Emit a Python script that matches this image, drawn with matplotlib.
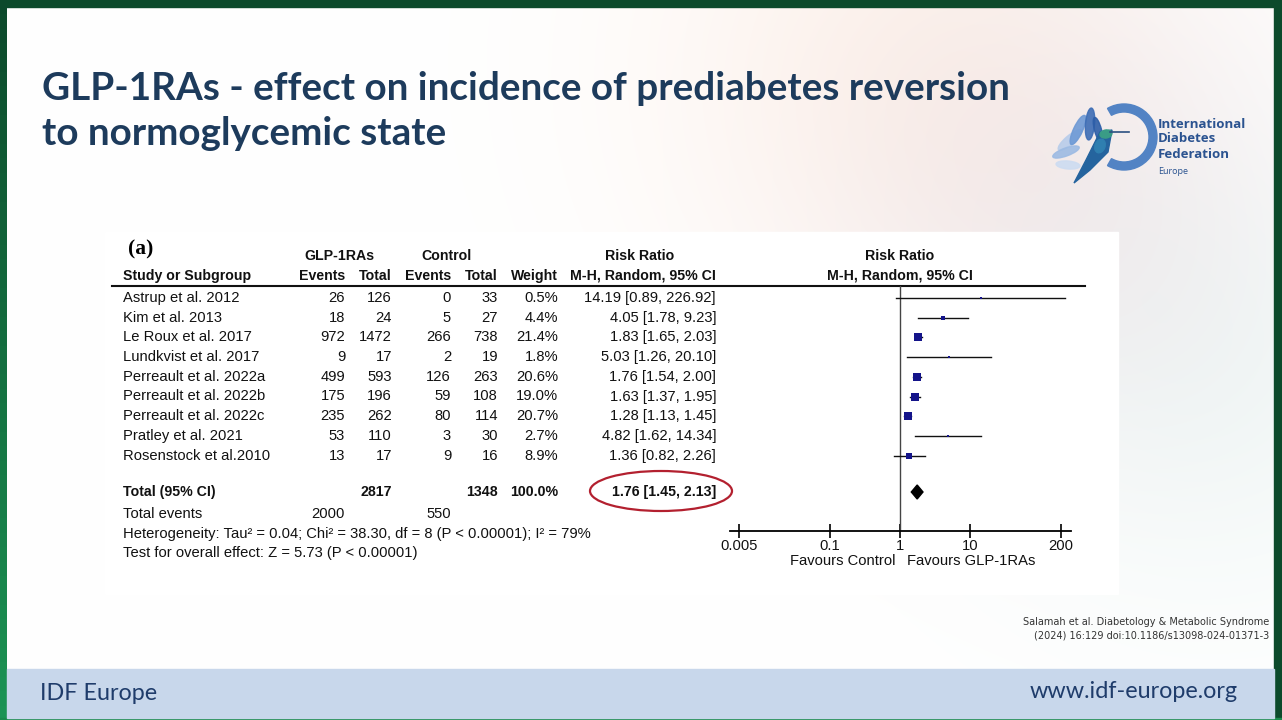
import numpy as np
import matplotlib
matplotlib.use("Agg")
import matplotlib.pyplot as plt
from matplotlib.patches import Rectangle, Ellipse, Polygon, Wedge

# --- forest plot data (Salamah et al. 2024, panel a) ---
studies = ["Astrup et al. 2012", "Kim et al. 2013", "Le Roux et al. 2017",
           "Lundkvist et al. 2017", "Perreault et al. 2022a", "Perreault et al. 2022b",
           "Perreault et al. 2022c", "Pratley et al. 2021", "Rosenstock et al.2010"]
glp_events = [26, 18, 972, 9, 499, 175, 235, 53, 13]
glp_total = [126, 24, 1472, 17, 593, 196, 262, 110, 17]
ctl_events = [0, 5, 266, 2, 126, 59, 80, 3, 9]
ctl_total = [33, 27, 738, 19, 263, 108, 114, 30, 16]
weights = [0.5, 4.4, 21.4, 1.8, 20.6, 19.0, 20.7, 2.7, 8.9]
rr = [14.19, 4.05, 1.83, 5.03, 1.76, 1.63, 1.28, 4.82, 1.36]
ci_lo = [0.89, 1.78, 1.65, 1.26, 1.54, 1.37, 1.13, 1.62, 0.82]
ci_hi = [226.92, 9.23, 2.03, 20.10, 2.00, 1.95, 1.45, 14.34, 2.26]

tot_glp, tot_ctl = 2817, 1348
tot_ev_glp, tot_ev_ctl = 2000, 550
pooled = [1.76, 1.45, 2.13]
xticks = [0.005, 0.1, 1, 10, 200]
xtick_labels = ["0.005", "0.1", "1", "10", "200"]

W, H = 1282, 720
fig = plt.figure(figsize=(W / 100, H / 100), dpi=100)

# full-slide axes in pixel coordinates
ax = fig.add_axes([0, 0, 1, 1])
ax.set_xlim(0, W)
ax.set_ylim(H, 0)
ax.axis("off")

# soft background glow (top right)
gx, gy = np.meshgrid(np.linspace(0, W, 160), np.linspace(0, H, 90))
img = np.ones((90, 160, 3))
def glow(cx, cy, r, col, k):
    f = np.exp(-((gx - cx) ** 2 + (gy - cy) ** 2) / (2 * r ** 2))[..., None] * k
    return f * (np.array(col) - 1.0)
img += glow(930, 60, 200, (0.99, 0.90, 0.84), 0.45)
img += glow(1060, 200, 170, (0.93, 0.91, 0.95), 0.5)
img += glow(1230, 380, 170, (0.90, 0.95, 0.94), 0.45)
img = np.clip(img, 0, 1)
ax.imshow(img, extent=[0, W, H, 0], aspect="auto", zorder=0, interpolation="bilinear")

# green frame
ax.add_patch(Rectangle((0, 0), W, 7, color="#0c4a2b", zorder=1))
ax.add_patch(Rectangle((W - 8, 0), 8, H, color="#0c4a2b", zorder=1))
lg = np.linspace(0, 1, 50)[:, None, None] * (np.array([0.11, 0.58, 0.33]) - np.array([0.05, 0.29, 0.17])) + np.array([0.05, 0.29, 0.17])
ax.imshow(lg, extent=[0, 7, H, 0], aspect="auto", zorder=1)
ax.add_patch(Rectangle((0, 718), W, 2, color="#1a8a4c", zorder=1))

# footer band
ax.add_patch(Rectangle((7, 669), W - 15, 49, color="#c8d7eb", zorder=1))
ax.text(40, 694, "IDF Europe", fontsize=16.8, family="Lato", color="#1f3c6b", va="center", zorder=3)
ax.text(1238, 692, "www.idf-europe.org", fontsize=16.8, family="Lato", color="#1f3c6b",
        va="center", ha="right", zorder=3)

# title
title_lines = ["GLP-1RAs - effect on incidence of prediabetes reversion", "to normoglycemic state"]
for i, s in enumerate(title_lines):
    ax.text(42, 100 + i * 45, s, fontsize=27.8, family="Lato", weight="bold", color="#1d3b5c",
            va="baseline", zorder=3)

# logo
ax.add_patch(Wedge((1124, 137), 33, -120, 120, width=8, color="#5283c4", zorder=3))
feathers = [((1070, 140), 9, 30, 50, "#b9cdea"), ((1066, 152), 8, 28, 70, "#9dbbe3"),
            ((1078, 130), 9, 32, 25, "#6f9ad5"), ((1090, 124), 9, 32, 5, "#3d6db5"),
            ((1068, 165), 8, 24, 95, "#cddcf1"), ((1098, 130), 7, 26, -15, "#2d5ea8")]
for (cx, cy), w_, h_, ang, col in feathers:
    ax.add_patch(Ellipse((cx, cy), w_, h_, angle=ang, color=col, alpha=0.9, zorder=3))
ax.add_patch(Polygon([[1100, 132], [1112, 130], [1108, 152], [1090, 170], [1074, 183], [1086, 160]],
                     closed=True, color="#25649e", zorder=4))
ax.add_patch(Ellipse((1106, 134), 12, 8, angle=-10, color="#3a9c86", zorder=4))
ax.add_patch(Ellipse((1100, 146), 10, 14, angle=20, color="#2f7fb0", zorder=4))
ax.plot([1110, 1129], [132, 132], color="#2b4f80", lw=1.2, zorder=4)
logo_lines = ["International", "Diabetes", "Federation"]
for i, s in enumerate(logo_lines):
    ax.text(1158, 124 + i * 15, s, fontsize=9.5, weight="bold", family="Open Sans",
            color="#2b5390", va="center", zorder=3)
ax.text(1158, 171, "Europe", fontsize=6.5, family="Open Sans", color="#2b5390", va="center", zorder=3)

# citation
ax.text(1269, 622, "Salamah et al. Diabetology & Metabolic Syndrome", fontsize=7,
        family="Liberation Sans Narrow", color="#333333", ha="right", va="center", zorder=3)
ax.text(1269, 636, "(2024) 16:129 doi:10.1186/s13098-024-01371-3", fontsize=7,
        family="Liberation Sans Narrow", color="#333333", ha="right", va="center", zorder=3)

# white figure panel
ax.add_patch(Rectangle((105, 232), 1013, 362, color="white", zorder=2))

# forest table
tf = dict(family="Liberation Sans", fontsize=10.6, color="#111111", va="center", zorder=3)
bf = dict(tf, weight="bold", fontsize=10.2)
ax.text(128, 249, "(a)", family="Liberation Serif", weight="bold", fontsize=15.5, va="center", zorder=3)
ax.text(339, 256, "GLP-1RAs", ha="center", **bf)
ax.text(446, 256, "Control", ha="center", **bf)
ax.text(640, 256, "Risk Ratio", ha="center", **bf)
ax.text(900, 256, "Risk Ratio", ha="center", **bf)
ax.text(123, 276, "Study or Subgroup", ha="left", **bf)
col_x = [345, 392, 451, 498, 558, 716]
for x, s in zip(col_x, ["Events", "Total", "Events", "Total", "Weight", "M-H, Random, 95% CI"]):
    ax.text(x, 276, s, ha="right", **bf)
ax.text(900, 276, "M-H, Random, 95% CI", ha="center", **bf)
ax.plot([112, 1085], [285.5, 285.5], color="#111111", lw=1.5, zorder=3)

row_y = [298 + i * 19.7 for i in range(len(studies))]
for i, y in enumerate(row_y):
    ax.text(123, y, studies[i], ha="left", **tf)
    vals = [str(glp_events[i]), str(glp_total[i]), str(ctl_events[i]), str(ctl_total[i]),
            f"{weights[i]:.1f}%", f"{rr[i]:.2f} [{ci_lo[i]:.2f}, {ci_hi[i]:.2f}]"]
    for x, s in zip(col_x, vals):
        ax.text(x, y, s, ha="right", **tf)

ax.text(123, 492, "Total (95% CI)", ha="left", **bf)
ax.text(col_x[1], 492, str(tot_glp), ha="right", **bf)
ax.text(col_x[3], 492, str(tot_ctl), ha="right", **bf)
ax.text(col_x[4], 492, f"{sum(weights):.1f}%", ha="right", **bf)
ax.text(col_x[5], 492, f"{pooled[0]:.2f} [{pooled[1]:.2f}, {pooled[2]:.2f}]", ha="right", **bf)
ax.add_patch(Ellipse((661, 491), 142, 40, fill=False, edgecolor="#b3202f", lw=1.6, zorder=4))
ax.text(123, 514, "Total events", ha="left", **tf)
ax.text(col_x[0], 514, str(tot_ev_glp), ha="right", **tf)
ax.text(col_x[2], 514, str(tot_ev_ctl), ha="right", **tf)
ax.text(123, 534, "Heterogeneity: Tau\u00b2 = 0.04; Chi\u00b2 = 38.30, df = 8 (P < 0.00001); I\u00b2 = 79%", ha="left", **tf)
ax.text(123, 553, "Test for overall effect: Z = 5.73 (P < 0.00001)", ha="left", **tf)

# forest plot axes: pixel y as data y, log x
x0, x1, y0, y1 = 730, 1071, 286, 531
fx = fig.add_axes([x0 / W, 1 - y1 / H, (x1 - x0) / W, (y1 - y0) / H])
fx.set_facecolor("none")
fx.set_xscale("log")
fx.set_xlim(10 ** ((x0 - 900) / 70), 10 ** ((x1 - 900) / 70))
fx.set_ylim(y1, y0)
for s in ["top", "left", "right"]:
    fx.spines[s].set_visible(False)
fx.spines["bottom"].set_linewidth(1.3)
fx.set_yticks([])
fx.set_xticks(xticks)
fx.set_xticklabels(xtick_labels, family="Liberation Sans", fontsize=10.6, color="#111111")
fx.minorticks_off()
fx.tick_params(axis="x", direction="inout", length=10, width=1.2, pad=1)
fx.axvline(1, color="#444444", lw=1.0)

for i, y in enumerate(row_y):
    fx.plot([ci_lo[i], ci_hi[i]], [y, y], color="#111111", lw=1.0, zorder=3)
    side = 1.75 * np.sqrt(weights[i]) * 0.72
    fx.scatter([rr[i]], [y], marker="s", s=max(side, 1.2) ** 2, color="#14148a", zorder=4, linewidths=0)

dia_y = 492
fx.fill([pooled[1], pooled[0], pooled[2], pooled[0]], [dia_y, dia_y - 7, dia_y, dia_y + 7],
        color="black", zorder=4)

ax.text(895, 561, "Favours Control", ha="right", **tf)
ax.text(907, 561, "Favours GLP-1RAs", ha="left", **tf)

fig.savefig("out.png", dpi=100)
